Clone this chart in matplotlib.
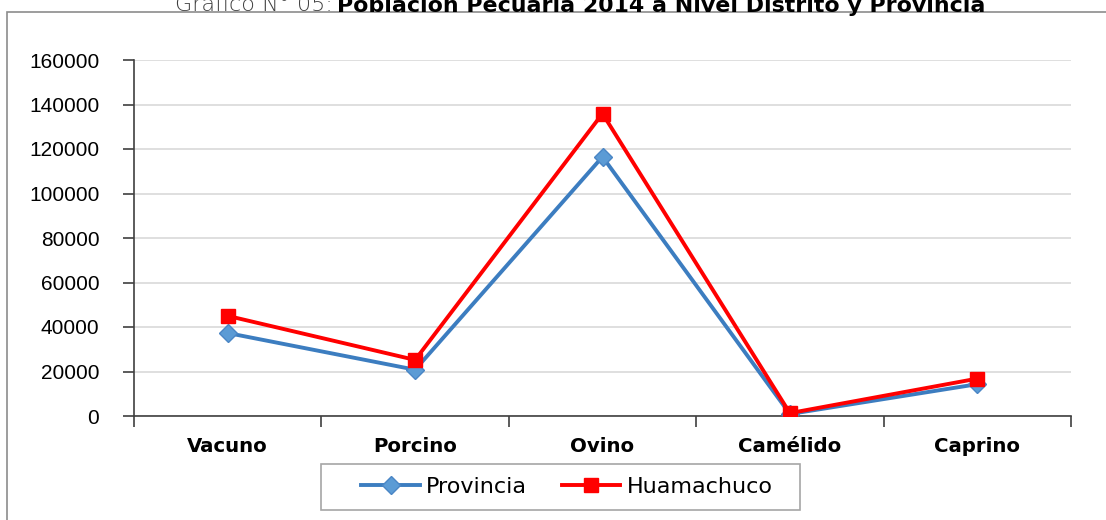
import matplotlib
matplotlib.use('Agg')
import matplotlib.pyplot as plt
from matplotlib.patches import Rectangle

# Data
categorias = ['Vacuno', 'Porcino', 'Ovino', 'Camélido', 'Caprino']
provincia = [37300, 20800, 116500, 900, 14300]
huamachuco = [45000, 25200, 135900, 1300, 16800]
y_ticks = [0, 20000, 40000, 60000, 80000, 100000, 120000, 140000, 160000]

W, H = 1106, 520
fig = plt.figure(figsize=(W / 100, H / 100), dpi=100)

# outer chart frame
fig.patches.append(Rectangle((7 / W, -0.05), 1.2, 1 - 12 / H + 0.05,
                             transform=fig.transFigure, fill=False,
                             edgecolor='#8c8c8c', linewidth=1.2, zorder=0))
# legend box
fig.patches.append(Rectangle((321 / W, 1 - 510 / H), (800 - 321) / W, 46 / H,
                             transform=fig.transFigure, fill=False,
                             edgecolor='#a6a6a6', linewidth=1.2, zorder=1))

ax = fig.add_axes([134 / W, 1 - 416 / H, (1071 - 134) / W, (416 - 60) / H])

x = list(range(len(categorias)))
ax.plot(x, provincia, color='#3c7dc0', linewidth=2.8, marker='D',
        markersize=9.5, markerfacecolor='#5b9bd5', markeredgecolor='#4a86c5',
        label='Provincia', zorder=3)
ax.plot(x, huamachuco, color='#ff0000', linewidth=2.8, marker='s',
        markersize=10.5, markerfacecolor='#ff0000', markeredgecolor='#ff0000',
        label='Huamachuco', zorder=4)

ax.set_xlim(-0.5, len(categorias) - 0.5)
ax.set_ylim(0, 160000)
ax.set_yticks(y_ticks)
ax.set_yticklabels([str(v) for v in y_ticks], fontsize=15,
                   family='Liberation Sans')
ax.set_xticks(x)
ax.set_xticklabels(categorias, fontsize=14.2, fontweight='bold',
                   family='DejaVu Sans')
ax.set_xticks([i - 0.5 for i in range(len(categorias) + 1)], minor=True)
ax.tick_params(axis='x', which='major', length=0, pad=15)
ax.tick_params(axis='x', which='minor', length=8, width=1.2,
               color='#404040', direction='out')
ax.tick_params(axis='y', length=8, width=1.2, color='#404040',
               direction='out', pad=17)

ax.grid(axis='y', color='#d9d9d9', linewidth=1.2)
ax.set_axisbelow(True)
for s in ['top', 'right']:
    ax.spines[s].set_visible(False)
for s in ['left', 'bottom']:
    ax.spines[s].set_color('#404040')
    ax.spines[s].set_linewidth(1.2)

leg = ax.legend(loc='center', bbox_to_anchor=(567 / W, 1 - 487 / H),
                bbox_transform=fig.transFigure, ncol=2, frameon=False,
                handlelength=2.64, columnspacing=1.55, borderpad=0.2,
                handletextpad=0.28, prop={'family': 'DejaVu Sans', 'size': 16})

# title, cut off at the top like the reference
fig.text(333 / W, 1 - 5 / H, 'Gráfico N° 05:', ha='right', va='center',
         fontsize=16, color='#404040', fontweight='light',
         family=['Liberation Sans Narrow', 'DejaVu Sans'])
fig.text(337 / W, 1 - 5 / H,
         'Población Pecuaria 2014 a Nivel Distrito y Provincia',
         ha='left', va='center', fontsize=15.9, fontweight='bold',
         family='DejaVu Sans', color='black')

fig.savefig('out.png', dpi=100)
